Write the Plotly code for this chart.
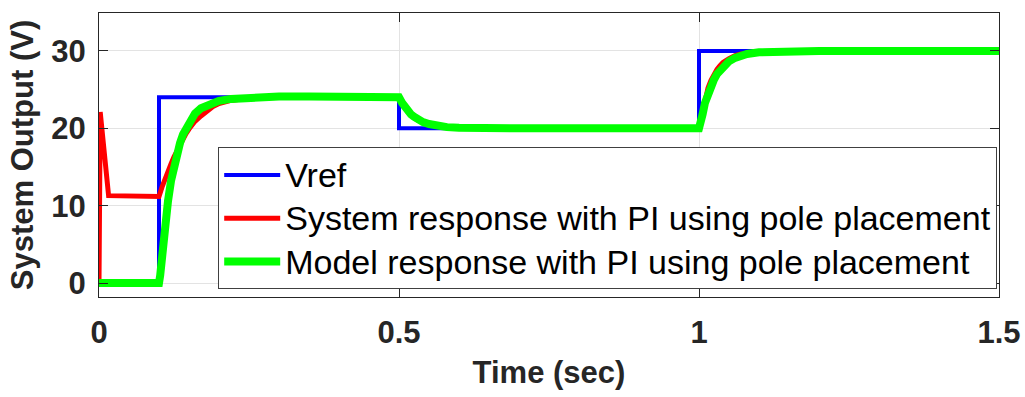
import plotly.graph_objects as go

# ---- data ----
vref_t = [0.0, 0.1, 0.5, 1.0, 1.5]
vref_v = [0.0, 24.0, 20.0, 30.0, 30.0]

sys_t = [0.0, 0.002, 0.016, 0.05, 0.1,
         0.105, 0.11, 0.115, 0.12, 0.125, 0.13, 0.135, 0.14, 0.145, 0.15,
         0.16, 0.17, 0.18, 0.19, 0.2, 0.22, 0.25, 0.3, 0.35, 0.4, 0.5,
         0.505, 0.51, 0.515, 0.52, 0.525, 0.53, 0.54, 0.55, 0.56, 0.58, 0.6, 0.65, 1.0,
         1.003, 1.006, 1.01, 1.015, 1.02, 1.025, 1.03, 1.035, 1.04, 1.05, 1.06,
         1.07, 1.08, 1.1, 1.13, 1.2, 1.5]
sys_v = [0.0, 22.1, 11.3, 11.2, 11.2,
         12.4, 13.5, 14.5, 15.4, 16.3, 17.1, 17.9, 18.6, 19.3, 19.9,
         20.9, 21.6, 22.3, 22.8, 23.2, 23.6, 23.9, 24.05, 24.08, 24.06, 24.0,
         23.2, 22.6, 22.1, 21.7, 21.4, 21.1, 20.75, 20.5, 20.3, 20.12, 20.05, 20.0, 20.0,
         21.0, 22.4, 23.9, 25.2, 26.2, 27.0, 27.6, 28.1, 28.5, 29.0, 29.4,
         29.6, 29.75, 29.9, 29.97, 30.0, 30.0]

mod_t = [0.0, 0.1, 0.102, 0.105, 0.11, 0.115, 0.12, 0.125, 0.13, 0.135, 0.14,
         0.145, 0.15, 0.16, 0.17, 0.18, 0.19, 0.2, 0.22, 0.25, 0.3, 0.35, 0.4, 0.45, 0.5,
         0.505, 0.51, 0.515, 0.52, 0.525, 0.53, 0.54, 0.55, 0.56, 0.58, 0.6, 0.65, 0.7, 1.0,
         1.003, 1.006, 1.01, 1.015, 1.02, 1.025, 1.03, 1.035, 1.04, 1.05, 1.06,
         1.07, 1.08, 1.1, 1.13, 1.2, 1.5]
mod_v = [0.0, 0.0, 1.0, 3.5, 7.6, 10.6, 13.2, 15.2, 16.8, 18.1, 19.2,
         20.0, 20.8, 21.9, 22.6, 23.0, 23.35, 23.55, 23.8, 24.0, 24.1, 24.1, 24.1, 24.05, 24.0,
         23.3, 22.7, 22.2, 21.8, 21.5, 21.2, 20.8, 20.55, 20.35, 20.15, 20.07, 20.02, 20.0, 20.0,
         20.6, 21.8, 23.3, 24.5, 25.5, 26.3, 27.0, 27.5, 28.0, 28.65, 29.1,
         29.4, 29.6, 29.82, 29.95, 30.0, 30.0]

names = ["Vref",
         "System response with PI using pole placement",
         "Model response with PI using pole placement"]

x_ticks = [0, 0.5, 1, 1.5]
x_ticklabels = ["0", "0.5", "1", "1.5"]
y_ticks = [0, 10, 20, 30]
y_ticklabels = ["0", "10", "20", "30"]


def legend_name(s):
    return '<span style="font-size:34px">' + s + '</span>'


fig = go.Figure()
fig.add_trace(go.Scatter(x=vref_t, y=vref_v, mode="lines", name=legend_name(names[0]),
                         line=dict(color="#0000ff", width=4, shape="hv")))
fig.add_trace(go.Scatter(x=sys_t, y=sys_v, mode="lines", name=legend_name(names[1]),
                         line=dict(color="#ff0000", width=5)))
fig.add_trace(go.Scatter(x=mod_t, y=mod_v, mode="lines", name=legend_name(names[2]),
                         line=dict(color="#00ff00", width=8)))

axis_common = dict(
    showline=True, linecolor="#262626", linewidth=1, mirror="ticks",
    ticks="inside", ticklen=9, tickcolor="#262626", tickwidth=1,
    showgrid=True, gridcolor="#e3e3e3", gridwidth=1, zeroline=False,
    automargin=False,
    tickfont=dict(family="Liberation Sans, Arial, sans-serif", size=31, color="#262626",
                  weight="bold"),
)

fig.update_layout(
    width=1025, height=397,
    margin=dict(l=99, r=26, t=13, b=100),
    paper_bgcolor="white", plot_bgcolor="white",
    xaxis=dict(range=[0, 1.5], tickvals=x_ticks, ticktext=x_ticklabels,
               title=dict(text="<b>Time (sec)</b>", standoff=12,
                          font=dict(family="Liberation Sans, Arial, sans-serif", size=31,
                                    color="#262626")),
               ticklabelstandoff=8, **axis_common),
    yaxis=dict(range=[-1.8, 34.9], tickvals=y_ticks, ticktext=y_ticklabels,
               title=dict(text="<b>System Output (V)</b>", standoff=8,
                          font=dict(family="Liberation Sans, Arial, sans-serif", size=31,
                                    color="#262626")),
               ticklabelstandoff=6, **axis_common),
    showlegend=True,
    legend=dict(x=0.998, xanchor="right", y=0.027, yanchor="bottom",
                bgcolor="white", bordercolor="#404040", borderwidth=1,
                font=dict(family="Liberation Sans, Arial, sans-serif", size=31, color="black"),
                itemwidth=56, tracegroupgap=0, traceorder="normal"),
)

fig.write_html("out.html")
